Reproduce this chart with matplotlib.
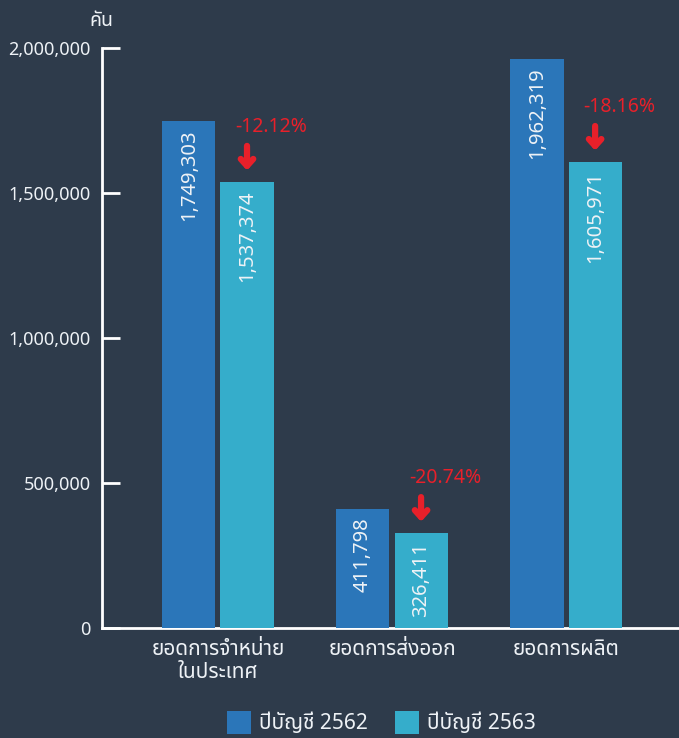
import numpy as np
import matplotlib
matplotlib.use("Agg")
import matplotlib.pyplot as plt
from matplotlib import font_manager

# collect fonts that can draw Thai
thai_fonts = []
try:
    from fontTools.ttLib import TTFont
    for f in font_manager.fontManager.ttflist:
        try:
            tt = TTFont(f.fname, fontNumber=0, lazy=True)
            cmap = tt.getBestCmap()
            if cmap and 0x0E01 in cmap and 0x0E33 in cmap and f.name not in thai_fonts:
                thai_fonts.append(f.name)
        except Exception:
            continue
except Exception:
    pass


def pick_thai(names):
    for pref in ["Noto Sans Thai", "Noto Sans Thai UI", "Sarabun", "Prompt"]:
        if pref in names:
            return pref
    for n in names:
        if "Looped" not in n:
            return n
    return names[0] if names else None


thai_font = pick_thai(thai_fonts)
families = ["Noto Sans"] + ([thai_font] if thai_font else []) + ["DejaVu Sans"]
plt.rcParams["font.family"] = families

categories = ["ยอดการจำหน่าย\nในประเทศ", "ยอดการส่งออก", "ยอดการผลิต"]
series_names = ["ปีบัญชี 2562", "ปีบัญชี 2563"]
values_2562 = [1749303, 411798, 1962319]
values_2563 = [1537374, 326411, 1605971]
changes = ["-12.12%", "-20.74%", "-18.16%"]
yticks = [0, 500000, 1000000, 1500000, 2000000]

bg = "#2e3b4b"
c_dark = "#2b76b9"
c_light = "#35adcb"
red = "#e8202a"
fg = "#eef2f6"

fig = plt.figure(figsize=(6.79, 7.38), dpi=100, facecolor=bg)
ax = fig.add_axes([0.150, 0.149, 0.850, 0.786], facecolor=bg)

x = np.arange(len(categories))
w = 0.305
off = 0.167
b1 = ax.bar(x - off, values_2562, w, color=c_dark, label=series_names[0], zorder=3)
b2 = ax.bar(x + off, values_2563, w, color=c_light, label=series_names[1], zorder=3)

for xi, v in zip(x - off, values_2562):
    ax.text(xi, v - 30000, f"{v:,}", rotation=90, ha="center", va="top",
            color=fg, fontsize=14.5, zorder=4)
for xi, v, ch in zip(x + off, values_2563, changes):
    ax.text(xi, v - 30000, f"{v:,}", rotation=90, ha="center", va="top",
            color=fg, fontsize=14.5, zorder=4)
    ax.annotate("", xy=(xi, v + 40000), xytext=(xi, v + 125000),
                arrowprops=dict(arrowstyle="->,head_length=0.5,head_width=0.45",
                                color=red, lw=4.5, shrinkA=0, shrinkB=0,
                                capstyle="round", joinstyle="round"))
    ax.text(xi + 0.14, v + 190000, ch, ha="center", va="center",
            color=red, fontsize=14)

ax.set_xlim(-0.667, 2.649)
ax.set_ylim(0, 2000000)
ax.set_yticks(yticks)
ax.set_yticklabels([f"{t:,}" for t in yticks])
ax.set_xticks(x)
ax.set_xticklabels(categories)

for s in ["top", "right"]:
    ax.spines[s].set_visible(False)
for s in ["left", "bottom"]:
    ax.spines[s].set_color("white")
    ax.spines[s].set_linewidth(2)
ax.tick_params(axis="y", direction="in", length=13, width=2, colors="white",
               labelcolor=fg, labelsize=13, pad=8)
ax.tick_params(axis="x", length=0, labelcolor=fg, labelsize=15, pad=8)
for lbl in ax.get_xticklabels():
    lbl.set_linespacing(1.1)

fig.text(0.167, 0.972, "คัน", ha="right", va="center", color=fg, fontsize=14)

leg = fig.legend(handles=[b1, b2], labels=series_names, loc="center",
                 bbox_to_anchor=(0.562, 0.021), ncol=2, frameon=False,
                 fontsize=15, handlelength=1.15, handleheight=1.3,
                 columnspacing=1.3, handletextpad=0.4, labelcolor=fg)

fig.savefig("out.png", dpi=100, facecolor=bg)
